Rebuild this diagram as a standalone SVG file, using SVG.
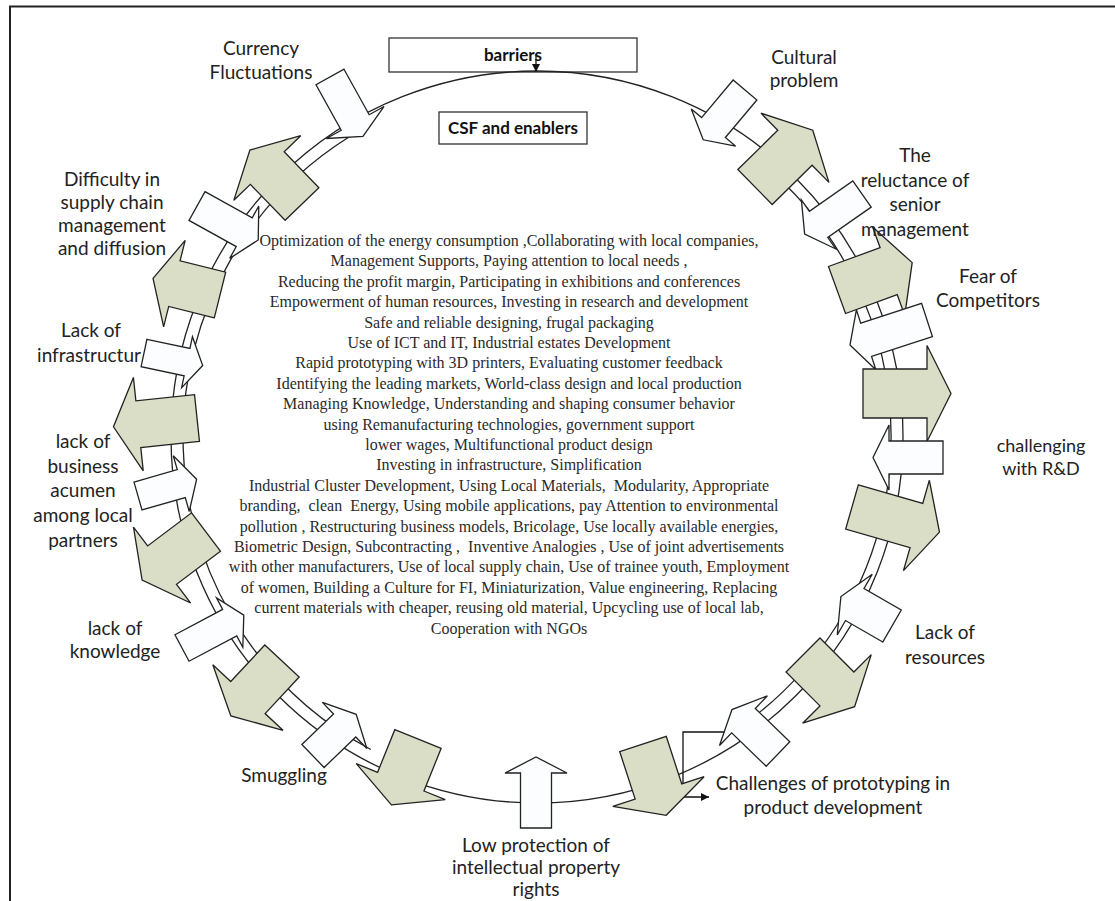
<svg xmlns="http://www.w3.org/2000/svg" width="1115" height="901" viewBox="0 0 1115 901">
  <style>
    .frame { fill: none; stroke: #222; stroke-width: 2; }
    .ring { fill: none; stroke: #222; stroke-width: 1.3; }
    .link { fill: none; stroke: #111; stroke-width: 1.3; }
    .w { fill: #fbfdff; stroke: #222; stroke-width: 1.3; stroke-linejoin: miter; }
    .g { fill: #dadec6; stroke: #222; stroke-width: 1.3; stroke-linejoin: miter; }
    .box { fill: #fff; stroke: #333; stroke-width: 1.3; }
    .lbl { font-family: Lato, "Liberation Sans", sans-serif; font-size: 19px; fill: #222; text-anchor: middle; }
    .hd { font-family: Lato, "Liberation Sans", sans-serif; font-size: 17px; font-weight: bold; fill: #111; text-anchor: middle; }
    .body { font-family: "Liberation Serif", "Times New Roman", serif; font-size: 16px; fill: #2a2a2a; text-anchor: middle; }
  </style>
  <defs>
    <marker id="tri" viewBox="0 0 10 10" refX="10" refY="5" markerWidth="8" markerHeight="8" markerUnits="userSpaceOnUse" orient="auto">
      <path d="M0,0 L10,5 L0,10 z" fill="#111"/>
    </marker>
  </defs>

  <rect width="1115" height="901" fill="#fff"/>
  <!-- page frame (top and left edges) -->
  <path class="frame" d="M10,901 V6.5 H1115"/>

  <!-- title boxes -->
  <g id="barriers">
    <rect class="box" x="389" y="38" width="248" height="34"/>
    <text class="hd" x="513" y="61">barriers</text>
  </g>
  <g id="csf">
    <rect class="box" x="439" y="112" width="148" height="32"/>
    <text class="hd" x="513" y="134">CSF and enablers</text>
  </g>

  <!-- connectors -->
  <g id="connectors">
    <circle class="ring" cx="537" cy="437" r="366"/>
    <!-- inner track on both flanks -->
    <path class="ring" d="M370.8,749.5 A354,354 0 0 1 349.4,136.8"/>
    <path class="ring" d="M755,158 A354,354 0 0 1 724.6,737.2"/>
    <line class="link" x1="536" y1="54" x2="536" y2="72" marker-end="url(#tri)"/>
    <polyline class="link" points="727,732 683,732 683,797 709,797" marker-end="url(#tri)"/>
  </g>

  <!-- ring of barrier / enabler arrows -->
  <g id="arrows">
    <g id="a-currency-w"><polygon class="w" transform="translate(330,77) rotate(61)" points="0,-16 52,-16 52,-33 68,0 52,33 52,16 0,16"/></g>
    <g id="a-cultural-w"><polygon class="w" transform="translate(745,90) rotate(130)" points="0,-15.5 49,-15.5 49,-29 65,0 49,29 49,15.5 0,15.5"/></g>
    <g id="a-cultural-g"><polygon class="g" transform="translate(755,187) rotate(-44.5)" points="0,-24.5 56,-24.5 56,-48.5 81,0 56,48.5 56,24.5 0,24.5"/></g>
    <g id="a-reluctance-w"><polygon class="w" transform="translate(862,194) rotate(145)" points="0,-16 53,-16 53,-30 70,0 53,30 53,16 0,16"/></g>
    <g id="a-reluctance-g"><polygon class="g" transform="translate(837,290) rotate(-20)" points="0,-25 55,-25 55,-47 80,0 55,47 55,25 0,25"/></g>
    <g id="a-fear-w"><polygon class="w" transform="translate(927,320) rotate(162)" points="0,-17.5 64,-17.5 64,-31.5 81,0 64,31.5 64,17.5 0,17.5"/></g>
    <g id="a-fear-g"><polygon class="g" transform="translate(863,393.5)" points="0,-24.5 64,-24.5 64,-48 88,0 64,48 64,24.5 0,24.5"/></g>
    <g id="a-rnd-w"><polygon class="w" transform="translate(943,457.5) rotate(180)" points="0,-16.5 54,-16.5 54,-32.5 70,0 54,32.5 54,16.5 0,16.5"/></g>
    <g id="a-rnd-g"><polygon class="g" transform="translate(852,507) rotate(16)" points="0,-23 67,-23 67,-47 91,0 67,47 67,23 0,23"/></g>
    <g id="a-resources-w"><polygon class="w" transform="translate(892,626) rotate(210)" points="0,-18.5 43,-18.5 43,-35 59,0 43,35 43,18.5 0,18.5"/></g>
    <g id="a-resources-g"><polygon class="g" transform="translate(803,655) rotate(45)" points="0,-24 48,-24 48,-48.5 73,0 48,48.5 48,24 0,24"/></g>
    <g id="a-prototyping-w"><polygon class="w" transform="translate(778,754) rotate(224)" points="0,-17 48,-17 48,-34.5 64,0 48,34.5 48,17 0,17"/></g>
    <g id="a-prototyping-g"><polygon class="g" transform="translate(643,744) rotate(72)" points="0,-24.5 50,-24.5 50,-48 75,0 50,48 50,24.5 0,24.5"/></g>
    <g id="a-ipr-w"><polygon class="w" transform="translate(536,828) rotate(-90)" points="0,-15.5 55,-15.5 55,-31 71,0 55,31 55,15.5 0,15.5"/></g>
    <g id="a-smuggling-g"><polygon class="g" transform="translate(418,739) rotate(112)" points="0,-25 46,-25 46,-48 71,0 46,48 46,25 0,25"/></g>
    <g id="a-smuggling-w"><polygon class="w" transform="translate(313,756) rotate(-44)" points="0,-16 44,-16 44,-32 60,0 44,32 44,16 0,16"/></g>
    <g id="a-knowledge-g"><polygon class="g" transform="translate(282,661) rotate(133)" points="0,-23.5 50,-23.5 50,-48 75,0 50,48 50,23.5 0,23.5"/></g>
    <g id="a-knowledge-w"><polygon class="w" transform="translate(182,648) rotate(-28)" points="0,-15 54,-15 54,-28 70,0 54,28 54,15 0,15"/></g>
    <g id="a-acumen-g2"><polygon class="g" transform="translate(206,532) rotate(143)" points="0,-24 55,-24 55,-47.5 80,0 55,47.5 55,24 0,24"/></g>
    <g id="a-acumen-w"><polygon class="w" transform="translate(138,496) rotate(-16)" points="0,-14.5 45,-14.5 45,-29 61,0 45,29 45,14.5 0,14.5"/></g>
    <g id="a-acumen-g1"><polygon class="g" transform="translate(197,418) rotate(174)" points="0,-23.5 59,-23.5 59,-47 84,0 59,47 59,23.5 0,23.5"/></g>
    <g id="a-infra-w"><polygon class="w" transform="translate(144,353) rotate(12)" points="0,-14 44,-14 44,-26 60,0 44,26 44,14 0,14"/></g>
    <g id="a-supply-g"><polygon class="g" transform="translate(220,295) rotate(194)" points="0,-23.5 47,-23.5 47,-44.5 69,0 47,44.5 47,23.5 0,23.5"/></g>
    <g id="a-supply-w"><polygon class="w" transform="translate(197,206) rotate(29)" points="0,-16.5 54,-16.5 54,-30 70,0 54,30 54,16.5 0,16.5"/></g>
    <g id="a-currency-g"><polygon class="g" transform="translate(302,204) rotate(-134)" points="0,-23.5 50,-23.5 50,-46.5 75,0 50,46.5 50,23.5 0,23.5"/></g>
  </g>

  <!-- barrier labels -->
  <g id="l-currency"><text class="lbl" x="261" y="55">Currency</text><text class="lbl" x="261" y="79">Fluctuations</text></g>
  <g id="l-cultural"><text class="lbl" x="804" y="64">Cultural</text><text class="lbl" x="804" y="87">problem</text></g>
  <g id="l-reluctance"><text class="lbl" x="915" y="162">The</text><text class="lbl" x="915" y="187">reluctance of</text><text class="lbl" x="915" y="211">senior</text><text class="lbl" x="915" y="236">management</text></g>
  <g id="l-fear"><text class="lbl" x="988" y="283">Fear of</text><text class="lbl" x="988" y="307">Competitors</text></g>
  <g id="l-rnd"><text class="lbl" x="1041" y="452" style="font-size:18px">challenging</text><text class="lbl" x="1041" y="475" style="font-size:18px">with R&amp;D</text></g>
  <g id="l-resources"><text class="lbl" x="945" y="639">Lack of</text><text class="lbl" x="945" y="664">resources</text></g>
  <g id="l-prototyping"><text class="lbl" x="833" y="790">Challenges of prototyping in</text><text class="lbl" x="833" y="814">product development</text></g>
  <g id="l-ipr"><text class="lbl" x="536" y="852">Low protection of</text><text class="lbl" x="536" y="874">intellectual property</text><text class="lbl" x="536" y="896">rights</text></g>
  <g id="l-smuggling"><text class="lbl" x="284" y="782">Smuggling</text></g>
  <g id="l-knowledge"><text class="lbl" x="115" y="635">lack of</text><text class="lbl" x="115" y="658">knowledge</text></g>
  <g id="l-acumen"><text class="lbl" x="83" y="448">lack of</text><text class="lbl" x="83" y="473">business</text><text class="lbl" x="83" y="497">acumen</text><text class="lbl" x="83" y="522">among local</text><text class="lbl" x="83" y="547">partners</text></g>
  <g id="l-infra"><text class="lbl" x="91" y="337">Lack of</text><text class="lbl" x="89" y="362">infrastructur</text></g>
  <g id="l-supply"><text class="lbl" x="112" y="186">Difficulty in</text><text class="lbl" x="112" y="209">supply chain</text><text class="lbl" x="112" y="232">management</text><text class="lbl" x="112" y="255">and diffusion</text></g>

  <!-- critical success factors and enablers -->
  <g id="enablers">
    <text class="body" x="509" y="246">Optimization of the energy consumption ,Collaborating with local companies,</text>
    <text class="body" x="509" y="266.4">Management Supports, Paying attention to local needs ,</text>
    <text class="body" x="509" y="286.8">Reducing the profit margin, Participating in exhibitions and conferences</text>
    <text class="body" x="509" y="307.2">Empowerment of human resources, Investing in research and development</text>
    <text class="body" x="509" y="327.6">Safe and reliable designing,  frugal packaging</text>
    <text class="body" x="509" y="348">Use of ICT and IT, Industrial estates Development</text>
    <text class="body" x="509" y="368.4">Rapid prototyping with 3D printers, Evaluating customer feedback</text>
    <text class="body" x="509" y="388.8">Identifying the leading markets, World-class design and local production</text>
    <text class="body" x="509" y="409.2">Managing Knowledge, Understanding and shaping consumer behavior</text>
    <text class="body" x="509" y="429.6">using Remanufacturing technologies, government support</text>
    <text class="body" x="509" y="450">lower wages, Multifunctional product design</text>
    <text class="body" x="509" y="470.4">Investing in infrastructure, Simplification</text>
    <text class="body" x="509" y="490.8" xml:space="preserve">Industrial Cluster Development, Using Local Materials,  Modularity, Appropriate</text>
    <text class="body" x="509" y="511.2" xml:space="preserve">branding,  clean  Energy, Using mobile applications, pay Attention to environmental</text>
    <text class="body" x="509" y="531.6">pollution , Restructuring business models, Bricolage, Use locally available energies,</text>
    <text class="body" x="509" y="552" xml:space="preserve">Biometric Design, Subcontracting ,  Inventive Analogies , Use of joint advertisements</text>
    <text class="body" x="509" y="572.4">with other manufacturers, Use of local supply chain, Use of trainee youth, Employment</text>
    <text class="body" x="509" y="592.8">of women, Building a Culture for FI, Miniaturization, Value engineering, Replacing</text>
    <text class="body" x="509" y="613.2">current materials with cheaper, reusing old material, Upcycling use of local lab,</text>
    <text class="body" x="509" y="633.6">Cooperation with NGOs</text>
  </g>
</svg>
